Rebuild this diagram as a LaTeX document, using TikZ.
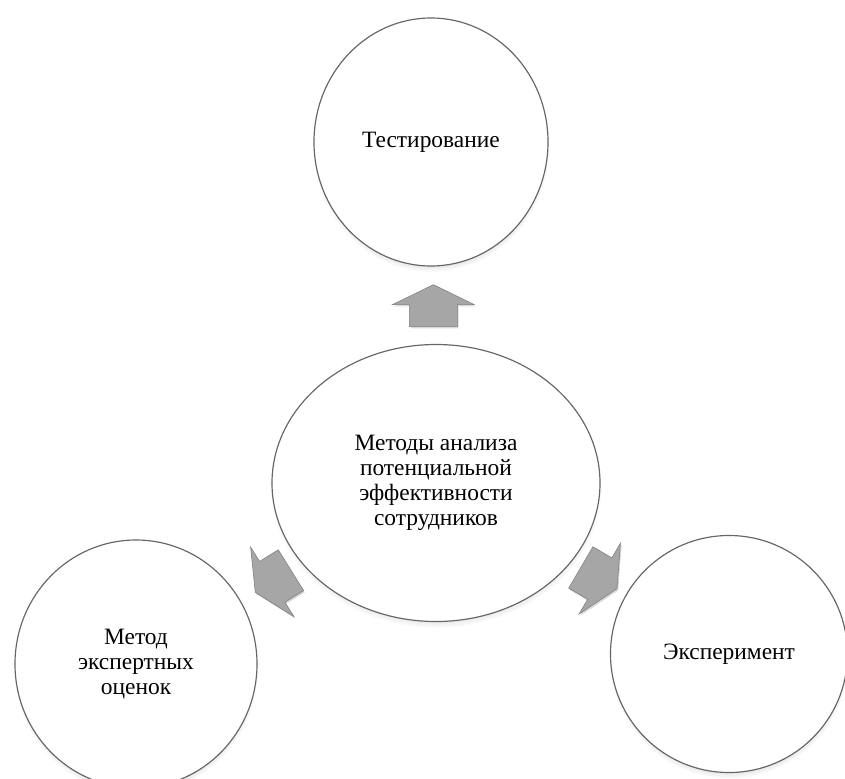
\documentclass[tikz,border=0pt]{standalone}
\usepackage{fontspec}
\setmainfont{Liberation Serif}
\usetikzlibrary{shapes.geometric,calc,shadows}
\tikzset{
  ball/.style={ellipse,draw=black!60,line width=1pt,fill=white,
    align=center,inner sep=0pt,font=\fontsize{20}{21.5}\selectfont,
    circular drop shadow={shadow xshift=0pt,shadow yshift=-4pt,shadow scale=1.01,opacity=0.5}},
  outarrow/.pic={
    \draw[fill=black!35,draw=black!50,line width=0.5pt,
      drop shadow={shadow xshift=1pt,shadow yshift=-1.5pt,opacity=0.3}]
      (21,0) -- (1,41) -- (1,24) -- (-21,24) -- (-21,-24) -- (1,-24) -- (1,-41) -- cycle;
  }
}

\begin{document}
\begin{tikzpicture}[x=0.03cm,y=-0.03cm]
  \useasboundingbox (0,0) rectangle (845,778);
  \node[ball,minimum width=7.02cm,minimum height=7.44cm] (test) at (431,142) {Тестирование};
  \node[ball,minimum width=9.84cm,minimum height=8.31cm] (core) at (436,483)
    {Методы анализа\\потенциальной\\эффективности\\сотрудников};
  \node[ball,minimum width=7.26cm,minimum height=7.44cm] (expert) at (136,664)
    {Метод\\экспертных\\оценок};
  \node[ball,minimum width=7.11cm,minimum height=7.11cm] (exper) at (729,654) {Эксперимент};
  % arrows from the centre outwards
  \pic[rotate=90] at ($(core)!0.52!(test)$) {outarrow};
  \pic[rotate=211.9] at ($(core)!0.543!(expert)$) {outarrow};
  \pic[rotate=-30.3] at ($(core)!0.556!(exper)$) {outarrow};
\end{tikzpicture}
\end{document}
